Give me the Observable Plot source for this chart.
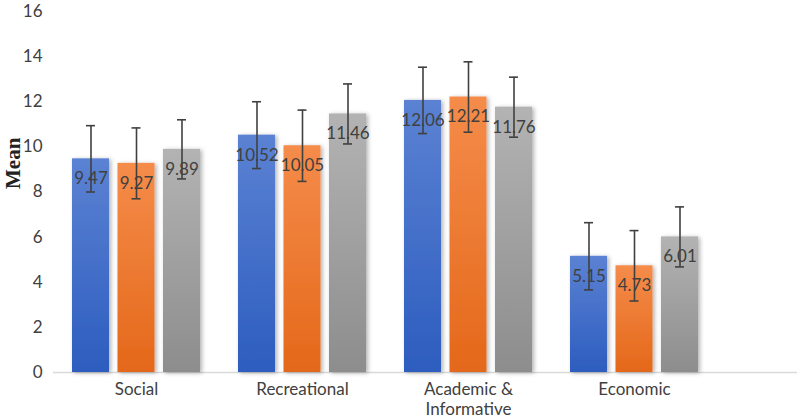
<!DOCTYPE html>
<html>
<head>
<meta charset="utf-8">
<script src="https://cdn.jsdelivr.net/npm/d3@7"></script>
<script src="https://cdn.jsdelivr.net/npm/@observablehq/plot@0.6"></script>
<style>
  html, body { margin: 0; padding: 0; background: #fff; }
  #chart { width: 797px; height: 420px; }
</style>
</head>
<body>
<div id="chart"></div>
<script>
const categories = ["Social", "Recreational", "Academic & Informative", "Economic"];
const categoryLabels = ["Social", "Recreational", "Academic &\nInformative", "Economic"];
const series = ["Series 1", "Series 2", "Series 3"];
const means1 = [9.47, 10.52, 12.06, 5.15];
const means2 = [9.27, 10.05, 12.21, 4.73];
const means3 = [9.89, 11.46, 11.76, 6.01];
const err1 = [1.47, 1.48, 1.47, 1.49];
const err2 = [1.57, 1.58, 1.56, 1.56];
const err3 = [1.31, 1.33, 1.33, 1.33];
const yTicks = [0, 2, 4, 6, 8, 10, 12, 14, 16];

const seriesMeans = [means1, means2, means3];
const seriesErr = [err1, err2, err3];
const gradIds = ["gBlue", "gOrange", "gGray"];
const gradStops = [["#5b82d3", "#2d5dbf"], ["#f58c4a", "#e4681a"], ["#b3b3b3", "#8d8d8d"]];

const rows = [];
series.forEach((s, si) => {
  categories.forEach((c, ci) => {
    rows.push({category: c, series: s, si, mean: seriesMeans[si][ci], err: seriesErr[si][ci]});
  });
});

// geometry of grouped bars within each category band
const bandW = 128, barW = 37, step = (bandW - barW) / 2;
const offsets = [-step, 0, step];

const font = "Lato, 'Noto Sans', sans-serif";
const marks = [];

marks.push(Plot.ruleY([0], {stroke: "#d9d9d9", strokeWidth: 1.5}));

series.forEach((s, si) => {
  const data = rows.filter(d => d.si === si);
  marks.push(Plot.barY(data, {
    x: "category", y: "mean",
    fill: `url(#${gradIds[si]})`,
    insetLeft: si * step, insetRight: (2 - si) * step
  }));
});

series.forEach((s, si) => {
  const data = rows.filter(d => d.si === si);
  marks.push(Plot.ruleX(data, {
    x: "category", y1: d => d.mean - d.err, y2: d => d.mean + d.err,
    dx: offsets[si], stroke: "#404040", strokeWidth: 1.6
  }));
  marks.push(Plot.tickY(data, {
    x: "category", y: d => d.mean + d.err, dx: offsets[si],
    insetLeft: (bandW - 9) / 2, insetRight: (bandW - 9) / 2,
    stroke: "#404040", strokeWidth: 1.6
  }));
  marks.push(Plot.tickY(data, {
    x: "category", y: d => d.mean - d.err, dx: offsets[si],
    insetLeft: (bandW - 9) / 2, insetRight: (bandW - 9) / 2,
    stroke: "#404040", strokeWidth: 1.6
  }));
  marks.push(Plot.text(data, {
    x: "category", y: "mean", text: d => d.mean.toFixed(2),
    dx: offsets[si], dy: 20, fill: "#404040", fontSize: 17, fontFamily: font
  }));
});

marks.push(Plot.axisY({
  ticks: yTicks, tickSize: 0, tickPadding: 11, fontSize: 17, fontFamily: font,
  color: "#404040", label: null
}));
marks.push(Plot.axisX({
  tickSize: 0, tickPadding: 8, fontSize: 17, fontFamily: font, color: "#404040",
  label: null, lineHeight: 1.18,
  tickFormat: d => categoryLabels[categories.indexOf(d)]
}));
marks.push(Plot.text(["Mean"], {
  frameAnchor: "left", dx: -40, dy: -3, rotate: -90, text: d => d,
  fontFamily: "'Liberation Serif', 'DejaVu Serif', serif", fontWeight: "bold",
  fontSize: 21, fill: "#222"
}));

const chart = Plot.plot({
  width: 797,
  height: 420,
  marginLeft: 53,
  marginRight: 0,
  marginTop: 11,
  marginBottom: 48,
  style: {background: "#fff", overflow: "visible"},
  x: {domain: categories, range: [53, 717], paddingInner: 0.229, paddingOuter: 0.1145, axis: null},
  y: {domain: [0, 16], axis: null},
  marks
});

// gradients and soft shadow
const svg = d3.select(chart);
const defs = svg.insert("defs", ":first-child");
gradIds.forEach((id, i) => {
  const g = defs.append("linearGradient").attr("id", id).attr("x1", 0).attr("y1", 0).attr("x2", 0).attr("y2", 1);
  g.append("stop").attr("offset", "0%").attr("stop-color", gradStops[i][0]);
  g.append("stop").attr("offset", "100%").attr("stop-color", gradStops[i][1]);
});
const f = defs.append("filter").attr("id", "shadow").attr("x", "-20%").attr("y", "-10%").attr("width", "150%").attr("height", "130%");
f.append("feDropShadow").attr("dx", 2).attr("dy", 1).attr("stdDeviation", 2)
  .attr("flood-color", "#000").attr("flood-opacity", 0.3);
svg.selectAll("g[aria-label='bar']").attr("filter", "url(#shadow)");

document.getElementById("chart").appendChild(chart);
</script>
</body>
</html>
